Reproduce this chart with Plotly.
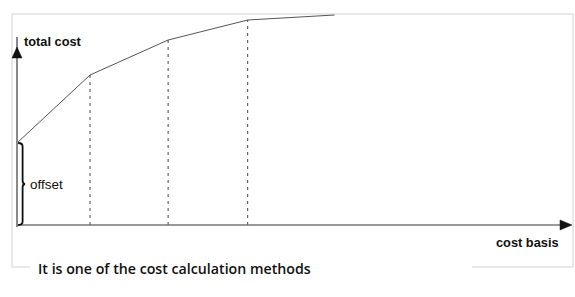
import plotly.graph_objects as go

# ---- data ----
cost_basis = [0, 10, 20.7, 31.6, 43.5]          # breakpoints along the cost basis
total_cost = [41, 75, 92.5, 102.5, 105]          # total cost at each breakpoint
offset_value = total_cost[0]
axis_labels = {"y": "total cost", "x": "cost basis", "offset": "offset"}
caption = "It is one of the cost calculation methods"

W, H = 575, 297
# pixel scale
x_org_px, y_org_px = 17, 225
sx, sy = 7.3, 2.0
x_range = [-x_org_px / sx, (W - x_org_px) / sx]
y_range = [-(H - y_org_px) / sy, y_org_px / sy]

def px_x(px):  # pixel -> data
    return (px - x_org_px) / sx

def px_y(py):
    return (y_org_px - py) / sy

fig = go.Figure()

# curve
fig.add_trace(go.Scatter(x=cost_basis, y=total_cost, mode="lines",
                         line=dict(color="#555555", width=1), hoverinfo="skip"))
# dashed verticals at inner breakpoints
for xb, yb in zip(cost_basis[1:4], total_cost[1:4]):
    fig.add_trace(go.Scatter(x=[xb, xb], y=[0, yb], mode="lines",
                             line=dict(color="#444444", width=1, dash="3px,4px"),
                             hoverinfo="skip"))

shapes = []
# faint frame
shapes.append(dict(type="rect", xref="paper", yref="paper",
                   x0=12 / W, x1=573 / W, y0=1 - 267 / H, y1=1 - 14 / H,
                   line=dict(color="#e2e2e2", width=1.5), layer="below"))
# white box covering frame under caption
shapes.append(dict(type="rect", xref="paper", yref="paper",
                   x0=30 / W, x1=472 / W, y0=1 - 292 / H, y1=1 - 258 / H,
                   line=dict(width=0), fillcolor="white", layer="below"))

# axes lines
y_tip = px_y(47)
x_tip = px_x(572)
shapes.append(dict(type="line", x0=0, x1=0, y0=px_y(227), y1=y_tip + 5,
                   line=dict(color="#8a8a8a", width=2)))
shapes.append(dict(type="line", x0=0, x1=x_tip - 1, y0=0, y1=0,
                   line=dict(color="#777777", width=1.3)))
# arrow heads
ah_w, ah_h = 5 / sx, 11 / sy
shapes.append(dict(type="path",
                   path=f"M {-ah_w},{y_tip - ah_h} L {ah_w},{y_tip - ah_h} L 0,{y_tip} Z",
                   fillcolor="#111111", line=dict(color="#111111", width=0.5)))
aw, ahh = 12 / sx, 5 / sy
shapes.append(dict(type="path",
                   path=f"M {x_tip - aw},{ahh} L {x_tip - aw},{-ahh} L {x_tip},0 Z",
                   fillcolor="#111111", line=dict(color="#111111", width=0.5)))

# curly brace for offset
b0 = 0.15
bw = 4.5 / sx
tip = 7 / sx
top, bot = offset_value, 0
mid = (top + bot) / 2
c = 3.5 / sy
brace = (f"M {b0},{top} Q {b0 + bw},{top} {b0 + bw},{top - c} "
         f"L {b0 + bw},{mid + c} Q {b0 + bw},{mid} {b0 + tip},{mid} "
         f"Q {b0 + bw},{mid} {b0 + bw},{mid - c} "
         f"L {b0 + bw},{bot + c} Q {b0 + bw},{bot} {b0},{bot}")
shapes.append(dict(type="path", path=brace, line=dict(color="#111111", width=1.8)))

label_font = dict(family="Liberation Sans, Arial", size=12.8, color="#111111", weight="bold")
annotations = [
    dict(x=px_x(22), y=px_y(41), text=axis_labels["y"], showarrow=False,
         xanchor="left", yanchor="middle", font=label_font),
    dict(x=px_x(561), y=px_y(242), text=axis_labels["x"], showarrow=False,
         xanchor="right", yanchor="middle", font=label_font),
    dict(x=px_x(28), y=mid, text=axis_labels["offset"], showarrow=False,
         xanchor="left", yanchor="middle",
         font=dict(family="Liberation Sans, Arial", size=13.5, color="#111111")),
    dict(x=px_x(36), y=px_y(268), text=caption, showarrow=False,
         xanchor="left", yanchor="middle",
         font=dict(family="Open Sans", size=14.2, color="#111111", weight=600)),
]

fig.update_layout(
    width=W, height=H, margin=dict(l=0, r=0, t=0, b=0),
    paper_bgcolor="white", plot_bgcolor="white", showlegend=False,
    xaxis=dict(range=x_range, visible=False, fixedrange=True),
    yaxis=dict(range=y_range, visible=False, fixedrange=True),
    shapes=shapes, annotations=annotations,
)

fig.write_html("out.html")
